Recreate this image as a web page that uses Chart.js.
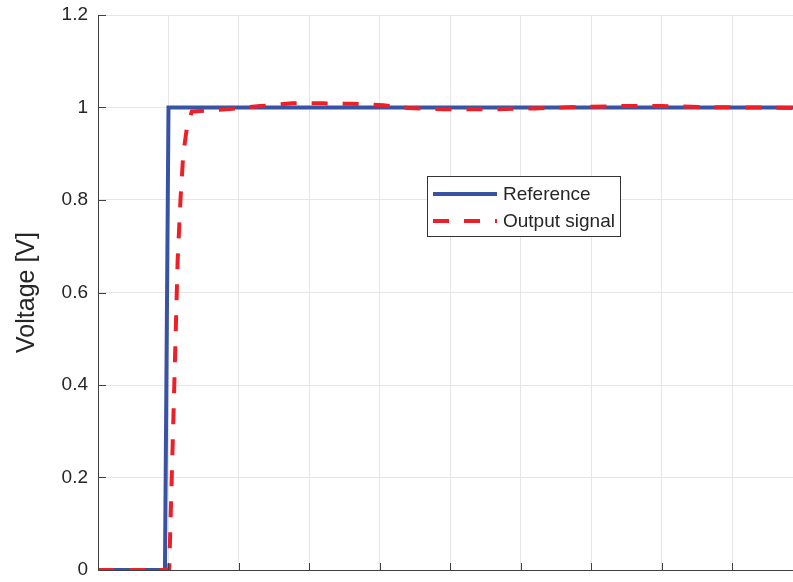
<!DOCTYPE html>
<html>
<head>
<meta charset="utf-8">
<script src="https://cdn.jsdelivr.net/npm/chart.js@4/dist/chart.umd.min.js"></script>
<style>
  html, body { margin: 0; padding: 0; background: #fff; overflow: hidden; }
  #wrap { width: 793px; height: 582px; }
</style>
</head>
<body>
<div id="wrap"><canvas id="c" width="793" height="582"></canvas></div>
<script>
// Step reference: time [s] and voltage [V]
const refTime    = [0, 0.95, 1.0, 9.86];
const refVoltage = [0, 0,    1.0, 1.0];

// Measured output signal: time [s] and voltage [V]
const outTime    = [0, 0.99, 1.01, 1.07, 1.13, 1.17, 1.21, 1.26, 1.33, 1.87, 2.3,  2.75, 3.2,  3.6,  4.05, 4.4,  4.9,  5.5,  6.2,  6.8,  7.4,  8.0,  8.6,  9.3,  9.86];
const outVoltage = [0, 0,    0,    0.33, 0.67, 0.80, 0.90, 0.955, 0.991, 0.997, 1.003, 1.009, 1.009, 1.008, 1.005, 0.999, 0.996, 0.996, 0.998, 1.001, 1.003, 1.003, 1.001, 1.0, 0.999];

const seriesNames = ['Reference', 'Output signal'];
const yTickValues = [0, 0.2, 0.4, 0.6, 0.8, 1, 1.2];
const yTickLabels = ['0', '0.2', '0.4', '0.6', '0.8', '1', '1.2'];
const xTickValues = [0, 1, 2, 3, 4, 5, 6, 7, 8, 9];

const FONT = '"Liberation Sans", Arial, Helvetica, sans-serif';
const AXIS_COLOR = '#404040';
const TEXT_COLOR = '#262626';

const toPoints = (xs, ys) => xs.map((x, i) => ({ x: x, y: ys[i] }));

// Inward-facing tick marks, drawn on both axes
const innerTicks = {
  id: 'innerTicks',
  afterDatasetsDraw(chart) {
    const { ctx, chartArea, scales } = chart;
    ctx.save();
    ctx.strokeStyle = AXIS_COLOR;
    ctx.lineWidth = 1;
    ctx.beginPath();
    yTickValues.forEach(v => {
      const y = Math.round(scales.y.getPixelForValue(v)) + 0.5;
      ctx.moveTo(chartArea.left, y);
      ctx.lineTo(chartArea.left + 8, y);
    });
    xTickValues.forEach(v => {
      const x = Math.round(scales.x.getPixelForValue(v)) + 0.5;
      ctx.moveTo(x, chartArea.bottom);
      ctx.lineTo(x, chartArea.bottom - 7);
    });
    ctx.stroke();
    ctx.restore();
  }
};

// Boxed legend placed inside the plot area
const boxLegend = {
  id: 'boxLegend',
  afterDraw(chart) {
    const { ctx } = chart;
    const bx = 427, by = 176, bw = 193, bh = 60;
    ctx.save();
    ctx.fillStyle = '#ffffff';
    ctx.fillRect(bx, by, bw, bh);
    ctx.strokeStyle = '#333333';
    ctx.lineWidth = 1;
    ctx.strokeRect(bx + 0.5, by + 0.5, bw, bh);
    const rows = [194, 221];
    chart.data.datasets.forEach((ds, i) => {
      const y = rows[i];
      ctx.beginPath();
      ctx.strokeStyle = ds.borderColor;
      ctx.lineWidth = ds.borderWidth;
      ctx.lineCap = 'butt';
      ctx.setLineDash(ds.borderDash || []);
      ctx.moveTo(433, y);
      ctx.lineTo(497, y);
      ctx.stroke();
      ctx.setLineDash([]);
      ctx.fillStyle = TEXT_COLOR;
      ctx.font = '19px ' + FONT;
      ctx.textBaseline = 'middle';
      ctx.textAlign = 'left';
      ctx.fillText(ds.label, 503, y + 1);
    });
    ctx.restore();
  }
};

new Chart(document.getElementById('c'), {
  type: 'line',
  data: {
    datasets: [
      {
        label: seriesNames[0],
        data: toPoints(refTime, refVoltage),
        borderColor: '#3853a4',
        borderWidth: 4,
        borderJoinStyle: 'miter',
        pointRadius: 0,
        tension: 0,
        fill: false,
        order: 1
      },
      {
        label: seriesNames[1],
        data: toPoints(outTime, outVoltage),
        borderColor: '#ee2027',
        borderWidth: 4,
        borderDash: [16, 15],
        borderCapStyle: 'butt',
        pointRadius: 0,
        tension: 0,
        fill: false,
        order: 0
      }
    ]
  },
  options: {
    responsive: false,
    animation: false,
    devicePixelRatio: 1,
    layout: { padding: { top: 15, left: 0, right: 0, bottom: 0 } },
    plugins: {
      legend: { display: false },
      tooltip: { enabled: false }
    },
    scales: {
      x: {
        type: 'linear',
        min: 0,
        max: 9.86,
        afterBuildTicks: s => { s.ticks = xTickValues.map(v => ({ value: v })); },
        afterFit: s => { s.height = 12; s.paddingLeft = 0; s.paddingRight = 0; },
        ticks: { display: false },
        grid: { color: '#e6e6e6', lineWidth: 1, drawTicks: false },
        border: { display: true, color: AXIS_COLOR, width: 1 }
      },
      y: {
        type: 'linear',
        min: 0,
        max: 1.2,
        afterBuildTicks: s => { s.ticks = yTickValues.map(v => ({ value: v })); },
        afterFit: s => { s.width = 98; s.paddingTop = 0; s.paddingBottom = 0; },
        ticks: {
          padding: 10,
          color: TEXT_COLOR,
          font: { family: FONT, size: 19 },
          callback: (v, i) => yTickLabels[i]
        },
        grid: { color: '#e6e6e6', lineWidth: 1, drawTicks: false },
        border: { display: true, color: AXIS_COLOR, width: 1 },
        title: {
          display: true,
          text: 'Voltage [V]',
          color: TEXT_COLOR,
          font: { family: FONT, size: 25 },
          padding: { top: 12, bottom: 0 }
        }
      }
    }
  },
  plugins: [innerTicks, boxLegend]
});
</script>
</body>
</html>
